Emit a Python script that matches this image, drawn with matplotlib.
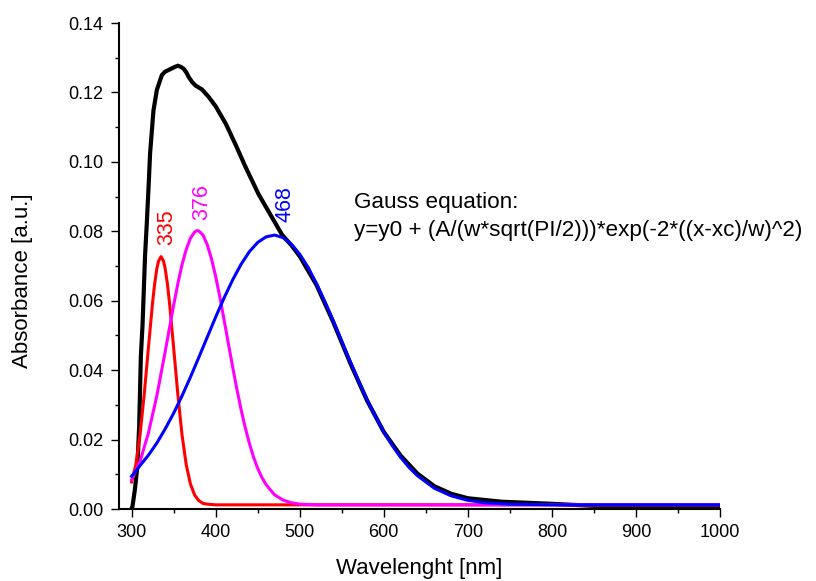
import matplotlib
matplotlib.use("Agg")
import matplotlib.pyplot as plt
from matplotlib.ticker import MultipleLocator, FormatStrFormatter

plt.rcParams['font.family'] = ['Liberation Sans', 'DejaVu Sans']

# measured spectrum (black)
black_nm = [300, 301, 304, 307, 309, 311, 313, 316, 318, 320, 322, 326, 330, 336,
            340, 346, 351, 355, 359, 362, 365, 368, 372, 376, 384, 392, 400, 412,
            424, 435, 451, 467, 479, 490, 500, 520, 540, 560, 580, 600, 620, 640,
            660, 680, 700, 740, 800, 850, 900, 1000]
black_abs = [0.0002, 0.0007, 0.0058, 0.0127, 0.0240, 0.0440, 0.0530, 0.0730, 0.0820,
             0.0919, 0.1025, 0.1148, 0.1207, 0.1250, 0.1260, 0.1267, 0.1273, 0.1277,
             0.1273, 0.1268, 0.1258, 0.1244, 0.1230, 0.1220, 0.1208, 0.1186, 0.1160,
             0.1110, 0.1048, 0.0988, 0.0907, 0.0840, 0.0790, 0.0760, 0.0728, 0.0645,
             0.0538, 0.0421, 0.0313, 0.0222, 0.0154, 0.0102, 0.0066, 0.0044, 0.0031,
             0.0021, 0.0015, 0.0009, 0.0005, 0.0004]

# fitted peak at 335 nm (red)
red_nm = [300, 305, 310, 315, 320, 325, 327.5, 330, 332, 335, 338, 340, 342.5, 345,
          350, 355, 360, 365, 370, 375, 380, 385, 390, 400, 1000]
red_abs = [0.0078, 0.0127, 0.0213, 0.0330, 0.0465, 0.0596, 0.0650, 0.0692, 0.0714,
           0.0727, 0.0714, 0.0692, 0.0650, 0.0596, 0.0465, 0.0330, 0.0213, 0.0127,
           0.0072, 0.0040, 0.0024, 0.0016, 0.0014, 0.0012, 0.0012]

# fitted peak at 376 nm (magenta)
mag_nm = [300, 310, 320, 330, 340, 345, 350, 355, 360, 365, 370, 375, 378, 380, 385,
          390, 395, 400, 405, 410, 415, 420, 425, 430, 435, 440, 445, 450, 455, 460,
          470, 480, 490, 500, 520, 1000]
mag_abs = [0.0084, 0.0137, 0.0219, 0.0326, 0.0454, 0.0521, 0.0587, 0.0649, 0.0704,
           0.0748, 0.0780, 0.0798, 0.0802, 0.0801, 0.0789, 0.0761, 0.0721, 0.0670,
           0.0610, 0.0545, 0.0478, 0.0412, 0.0348, 0.0289, 0.0236, 0.0190, 0.0150,
           0.0117, 0.0091, 0.0070, 0.0041, 0.0026, 0.0018, 0.0014, 0.0012, 0.0012]

# fitted peak at 468 nm (blue)
blue_nm = [300, 310, 320, 330, 340, 350, 360, 370, 380, 390, 400, 410, 420, 430, 440,
           450, 460, 470, 480, 490, 500, 510, 520, 530, 540, 550, 560, 570, 580, 590,
           600, 610, 620, 630, 640, 660, 680, 700, 720, 750, 800, 1000]
blue_abs = [0.0094, 0.0125, 0.0155, 0.0190, 0.0231, 0.0276, 0.0326, 0.0380, 0.0437,
            0.0495, 0.0553, 0.0608, 0.0659, 0.0704, 0.0741, 0.0768, 0.0784, 0.0789,
            0.0782, 0.0763, 0.0734, 0.0696, 0.0649, 0.0597, 0.0541, 0.0483, 0.0425,
            0.0369, 0.0316, 0.0267, 0.0222, 0.0183, 0.0149, 0.0120, 0.0096, 0.0060,
            0.0038, 0.0025, 0.0018, 0.0014, 0.0012, 0.0012]

peak_labels = ['335', '376', '468']
peak_label_x = [342, 383, 483]
peak_label_y = [0.0812, 0.0883, 0.0879]
peak_colors = ['#FF0000', '#FF00FF', '#0000FF']

fig = plt.figure(figsize=(8.16, 5.81), dpi=100)
ax = fig.add_axes([119 / 816, 1 - 509 / 581, 601 / 816, 486 / 581])

ax.plot(black_nm, black_abs, color='black', lw=3.0, zorder=2)
ax.plot(red_nm, red_abs, color=peak_colors[0], lw=2.2, zorder=3)
ax.plot(mag_nm, mag_abs, color=peak_colors[1], lw=2.2, zorder=4)
ax.plot(blue_nm, blue_abs, color=peak_colors[2], lw=2.2, zorder=5)

for lab, lx, ly, c in zip(peak_labels, peak_label_x, peak_label_y, peak_colors):
    ax.text(lx, ly, lab, color=c, rotation=90, ha='center', va='center', fontsize=15.5)

ax.text(565, 0.0867, 'Gauss equation:', fontsize=16.2, ha='left', va='baseline')
ax.text(565, 0.0787, 'y=y0 + (A/(w*sqrt(PI/2)))*exp(-2*((x-xc)/w)^2)',
        fontsize=16.2, ha='left', va='baseline')

ax.set_xlim(285, 1000)
ax.set_ylim(0, 0.14)
ax.xaxis.set_major_locator(MultipleLocator(100))
ax.xaxis.set_minor_locator(MultipleLocator(50))
ax.yaxis.set_major_locator(MultipleLocator(0.02))
ax.yaxis.set_minor_locator(MultipleLocator(0.01))
ax.yaxis.set_major_formatter(FormatStrFormatter('%.2f'))
ax.set_xticks(range(300, 1001, 100))

for side in ['top', 'right']:
    ax.spines[side].set_visible(False)
for side in ['left', 'bottom']:
    ax.spines[side].set_linewidth(1.5)

ax.tick_params(which='major', direction='out', length=6, width=1.0, labelsize=13, pad=5)
ax.tick_params(which='minor', direction='out', length=3, width=1.0)

ax.set_xlabel('Wavelenght [nm]', fontsize=16)
ax.set_ylabel('Absorbance [a.u.]', fontsize=16)
ax.xaxis.set_label_coords(0.5, -0.10)
ax.yaxis.set_label_coords(-0.143, 0.469)

fig.savefig('out.png', dpi=100)
